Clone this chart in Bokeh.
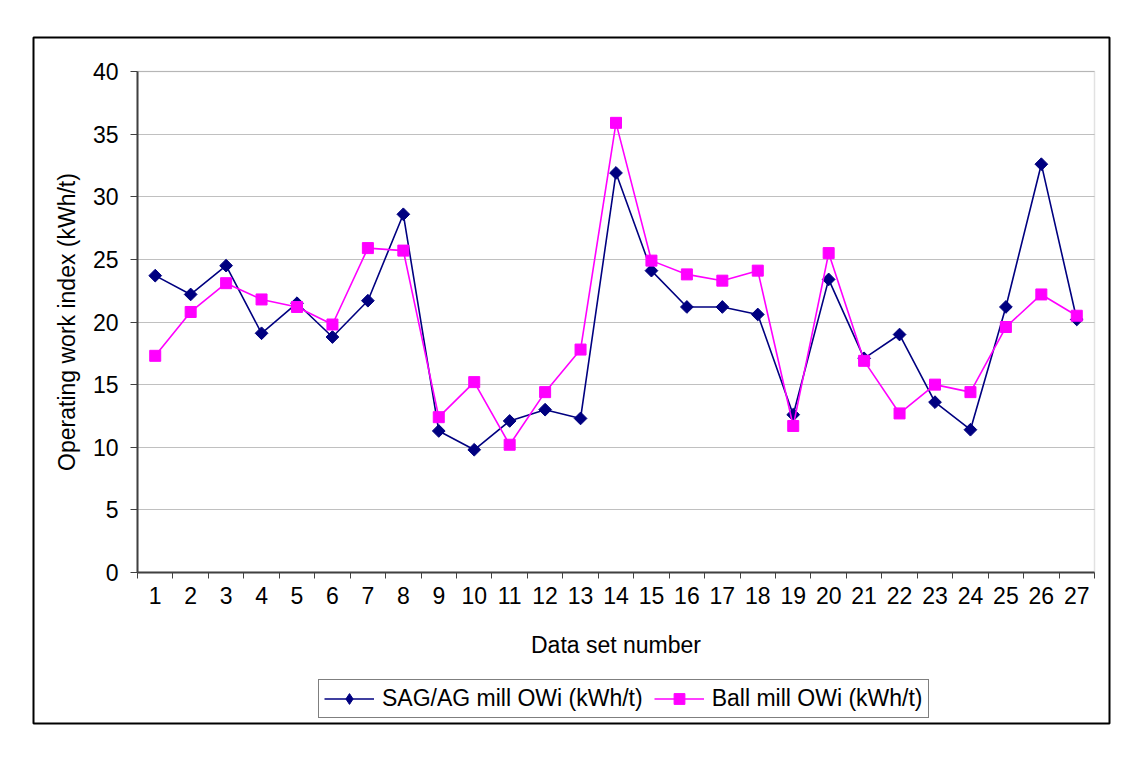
import math
from bokeh.plotting import figure
from bokeh.models import Range1d, FixedTicker, Legend, LegendItem, BoxAnnotation
from bokeh.embed import file_html
from bokeh.resources import INLINE

# Operating work index per data set
data_sets = list(range(1, 28))
sag_owi = [23.7, 22.2, 24.5, 19.1, 21.5, 18.8, 21.7, 28.6, 11.3, 9.8,
           12.1, 13.0, 12.3, 31.9, 24.1, 21.2, 21.2, 20.6, 12.6, 23.4,
           17.1, 19.0, 13.6, 11.4, 21.2, 32.6, 20.2]
ball_owi = [17.3, 20.8, 23.1, 21.8, 21.2, 19.8, 25.9, 25.7, 12.4, 15.2,
            10.2, 14.4, 17.8, 35.9, 24.9, 23.8, 23.3, 24.1, 11.7, 25.5,
            16.9, 12.7, 15.0, 14.4, 19.6, 22.2, 20.5]
y_ticks = [0, 5, 10, 15, 20, 25, 30, 35, 40]

FONT = "Liberation Sans"
FS = "23px"

# Page geometry (px): outer chart box and the inner plotting area
W, H = 1133, 758
BOX_L, BOX_T, BOX_R, BOX_B = 33, 37, 1109, 723
AREA_L, AREA_T, AREA_R, AREA_B = 137, 71, 1094, 572
X0, X1 = 0.5, len(data_sets) + 0.5
Y0, Y1 = 0, 40

# The figure frame is the outer chart box; the data ranges are padded so
# that X0..X1 / Y0..Y1 land on the inner plotting area.
px_x = (AREA_R - AREA_L) / (X1 - X0)
px_y = (AREA_B - AREA_T) / (Y1 - Y0)
x_range = Range1d(X0 - (AREA_L - BOX_L) / px_x, X1 + (BOX_R - AREA_R) / px_x)
y_range = Range1d(Y0 - (BOX_B - AREA_B) / px_y, Y1 + (AREA_T - BOX_T) / px_y)

p = figure(width=W, height=H, output_backend="svg", toolbar_location=None,
           x_range=x_range, y_range=y_range,
           min_border_left=BOX_L, min_border_right=W - BOX_R,
           min_border_top=BOX_T, min_border_bottom=H - BOX_B)
p.background_fill_color = "white"
p.border_fill_color = "white"
p.outline_line_color = "black"
p.outline_line_width = 2

# grey border of the plotting area (left/bottom covered by the axes)
area = BoxAnnotation(left=X0, right=X1, bottom=Y0, top=Y1,
                     fill_color=None, line_color="#a0a0a0", line_width=1.5,
                     level="underlay")
p.add_layout(area)

# x axis: labels at each data set, tick marks between them
p.xaxis.fixed_location = Y0
p.xaxis.bounds = (X0, X1)
p.xaxis.ticker = FixedTicker(ticks=data_sets,
                             minor_ticks=[i + 0.5 for i in range(0, len(data_sets) + 1)])
p.xaxis.major_tick_out = 0
p.xaxis.major_tick_in = 0
p.xaxis.minor_tick_out = 6
p.xaxis.minor_tick_in = 0
p.xaxis.minor_tick_line_color = "#404040"
p.xaxis.major_label_standoff = 8
p.xaxis.axis_label = "Data set number"
p.xaxis.axis_label_standoff = 25

p.yaxis.fixed_location = X0
p.yaxis.bounds = (Y0, Y1)
p.yaxis.ticker = FixedTicker(ticks=y_ticks)
p.yaxis.major_tick_out = 7
p.yaxis.major_tick_in = 0
p.yaxis.minor_tick_out = 0
p.yaxis.minor_tick_in = 0
p.yaxis.major_label_standoff = 12
p.yaxis.axis_label = "Operating work index (kWh/t)"
p.yaxis.axis_label_standoff = 10

for ax in (p.xaxis, p.yaxis):
    ax.axis_line_color = "#404040"
    ax.axis_line_width = 2
    ax.major_tick_line_color = "#404040"
    ax.major_label_text_font = FONT
    ax.major_label_text_font_size = FS
    ax.major_label_text_color = "black"
    ax.axis_label_text_font = FONT
    ax.axis_label_text_font_size = FS
    ax.axis_label_text_font_style = "normal"
    ax.axis_label_text_color = "black"

p.xgrid.visible = False
p.ygrid.ticker = FixedTicker(ticks=y_ticks)
p.ygrid.bounds = (Y0, Y1)
p.ygrid.cross_bounds = (X0, X1)
p.ygrid.grid_line_color = "#c0c0c0"
p.ygrid.grid_line_width = 1

sag_line = p.line(data_sets, sag_owi, line_color="#000080", line_width=1.6)
sag_pts = p.scatter(data_sets, sag_owi, marker="square", angle=math.pi / 4,
                    size=9, fill_color="#000080", line_color="#000080")
ball_line = p.line(data_sets, ball_owi, line_color="#ff00ff", line_width=1.6)
ball_pts = p.scatter(data_sets, ball_owi, marker="square", size=11,
                     fill_color="#ff00ff", line_color="#ff00ff")
# diamond swatch for the legend entry (legend swatches ignore marker angle)
sag_key = p.scatter(data_sets, sag_owi, marker="diamond", size=16,
                    fill_color="#000080", line_color="#000080", visible=False)

legend = Legend(items=[
    LegendItem(label="SAG/AG mill OWi (kWh/t)", renderers=[sag_line, sag_key]),
    LegendItem(label="Ball mill OWi (kWh/t)", renderers=[ball_line, ball_pts]),
], orientation="horizontal", location=(285, 5))
legend.border_line_color = "black"
legend.border_line_width = 1
legend.background_fill_color = "white"
legend.background_fill_alpha = 1
legend.inactive_fill_alpha = 0
legend.label_text_font = FONT
legend.label_text_font_size = FS
legend.label_text_color = "black"
legend.glyph_width = 50
legend.glyph_height = 27
legend.label_standoff = 8
legend.spacing = 11
legend.padding = 5
legend.margin = 0
p.add_layout(legend)

open("out.html", "w").write(file_html(p, INLINE))
